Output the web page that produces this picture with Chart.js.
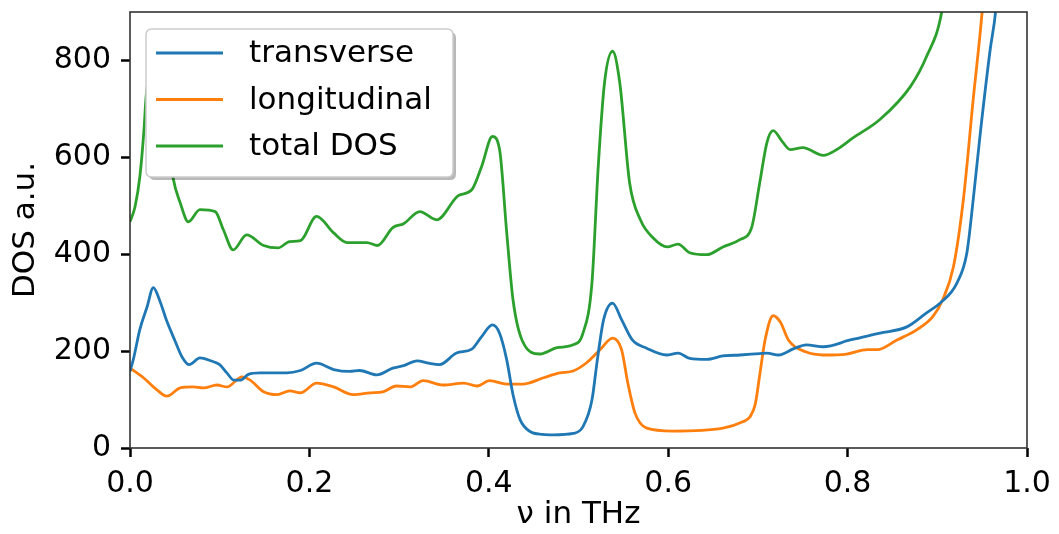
<!DOCTYPE html>
<html>
<head>
<meta charset="utf-8">
<script src="https://cdn.jsdelivr.net/npm/chart.js@4"></script>
<style>
  html, body { margin: 0; padding: 0; background: #ffffff; }
  #wrap { width: 1059px; height: 534px; }
</style>
</head>
<body>
<div id="wrap"><canvas id="c" width="1059" height="534"></canvas></div>
<script>
// ---- data ----
const seriesLabels = ["transverse", "longitudinal", "total DOS"];

const transverseX = [0.000,0.004,0.011,0.019,0.026,0.033,0.041,0.050,0.058,0.066,0.078,0.090,0.100,0.108,0.116,0.123,0.132,0.145,0.175,0.190,0.208,0.227,0.245,0.256,0.275,0.293,0.305,0.320,0.333,0.345,0.364,0.381,0.392,0.404,0.412,0.420,0.427,0.435,0.446,0.460,0.472,0.494,0.505,0.515,0.521,0.528,0.538,0.548,0.560,0.576,0.598,0.611,0.624,0.643,0.661,0.680,0.702,0.710,0.723,0.740,0.754,0.773,0.803,0.836,0.866,0.888,0.903,0.922,0.933,0.940,0.948,0.959,0.965,0.975];
const transverseY = [158,185,245,291,331,305,262,222,188,172,186,180,172,155,140,140,152,155,155,160,175,162,158,160,151,165,170,180,175,172,196,204,230,254,237,182,110,58,34,28,27,30,44,99,182,265,299,265,223,206,192,196,185,183,190,192,195,196,192,205,213,209,223,237,250,279,299,341,403,512,651,823,901,1150];

const longitudinalX = [0.000,0.015,0.030,0.041,0.056,0.070,0.082,0.097,0.108,0.125,0.134,0.149,0.164,0.178,0.190,0.208,0.227,0.249,0.268,0.282,0.297,0.312,0.327,0.349,0.372,0.387,0.401,0.420,0.438,0.461,0.479,0.494,0.509,0.524,0.538,0.548,0.555,0.563,0.576,0.605,0.661,0.683,0.691,0.697,0.702,0.708,0.717,0.725,0.734,0.754,0.773,0.799,0.822,0.833,0.855,0.877,0.895,0.906,0.918,0.929,0.940,0.950,0.958];
const longitudinalY = [165,145,120,107,124,126,124,130,126,147,140,116,110,118,114,134,126,110,114,116,128,126,139,130,134,128,139,132,132,145,155,159,176,203,227,203,134,72,41,35,41,54,64,90,150,223,273,260,223,198,192,194,203,203,223,244,271,306,374,512,719,901,1100];

const totalX = [0.000,0.0056,0.011,0.0156,0.018,0.026,0.034,0.041,0.048,0.056,0.065,0.078,0.095,0.104,0.115,0.130,0.149,0.165,0.178,0.190,0.208,0.227,0.242,0.264,0.276,0.293,0.305,0.323,0.342,0.366,0.381,0.392,0.404,0.412,0.420,0.427,0.437,0.457,0.476,0.494,0.505,0.515,0.522,0.529,0.538,0.546,0.557,0.569,0.583,0.599,0.611,0.624,0.643,0.661,0.680,0.693,0.702,0.710,0.717,0.727,0.736,0.750,0.773,0.788,0.806,0.836,0.870,0.888,0.905,0.915];
const totalY = [467,498,560,657,726,800,760,660,558,506,467,492,488,451,409,440,418,413,426,428,478,444,424,424,418,455,463,488,471,521,533,581,643,616,444,306,223,194,207,213,237,341,581,754,819,754,547,471,434,415,421,403,399,415,430,455,547,630,655,633,616,620,604,616,640,678,746,808,901,1050];

const xTicks = [0.0, 0.2, 0.4, 0.6, 0.8, 1.0];
const yTicks = [0, 200, 400, 600, 800];
const colors = ["#1f77b4", "#ff7f0e", "#2ca02c"];

function pts(xs, ys) { return xs.map((x, i) => ({ x: x, y: ys[i] })); }

const FONT = "'DejaVu Sans', 'Liberation Sans', sans-serif";

const framePlugin = {
  id: 'frame',
  afterDatasetsDraw(chart) {
    const a = chart.chartArea, ctx = chart.ctx;
    ctx.save();
    ctx.strokeStyle = '#333333';
    ctx.lineWidth = 1.6;
    ctx.strokeRect(a.left, a.top, a.right - a.left, a.bottom - a.top);
    ctx.restore();
  }
};

const legendPlugin = {
  id: 'boxLegend',
  afterDraw(chart) {
    const ctx = chart.ctx;
    const bx = 146, by = 29, bw = 307, bh = 148, r = 6;
    function rr(x, y, w, h) {
      ctx.beginPath();
      ctx.moveTo(x + r, y);
      ctx.lineTo(x + w - r, y);
      ctx.quadraticCurveTo(x + w, y, x + w, y + r);
      ctx.lineTo(x + w, y + h - r);
      ctx.quadraticCurveTo(x + w, y + h, x + w - r, y + h);
      ctx.lineTo(x + r, y + h);
      ctx.quadraticCurveTo(x, y + h, x, y + h - r);
      ctx.lineTo(x, y + r);
      ctx.quadraticCurveTo(x, y, x + r, y);
      ctx.closePath();
    }
    ctx.save();
    rr(bx + 3, by + 3, bw, bh);
    ctx.fillStyle = 'rgba(0,0,0,0.28)';
    ctx.fill();
    rr(bx, by, bw, bh);
    ctx.fillStyle = '#ffffff';
    ctx.fill();
    ctx.strokeStyle = '#cccccc';
    ctx.lineWidth = 1.5;
    ctx.stroke();
    const rows = [53, 99.5, 146];
    chart.data.datasets.forEach((ds, i) => {
      const y = rows[i];
      ctx.beginPath();
      ctx.moveTo(156, y);
      ctx.lineTo(223, y);
      ctx.strokeStyle = ds.borderColor;
      ctx.lineWidth = 2.8;
      ctx.stroke();
      ctx.fillStyle = '#000000';
      ctx.font = '31px ' + FONT;
      ctx.textBaseline = 'middle';
      ctx.textAlign = 'left';
      ctx.fillText(ds.label, 249, y + 1);
    });
    ctx.restore();
  }
};

new Chart(document.getElementById('c'), {
  type: 'line',
  data: {
    datasets: [
      { label: seriesLabels[0], data: pts(transverseX, transverseY), borderColor: colors[0] },
      { label: seriesLabels[1], data: pts(longitudinalX, longitudinalY), borderColor: colors[1] },
      { label: seriesLabels[2], data: pts(totalX, totalY), borderColor: colors[2] }
    ]
  },
  options: {
    responsive: false,
    devicePixelRatio: 1,
    animation: false,
    parsing: false,
    layout: { padding: { top: 12, right: 32, left: 0, bottom: 0 } },
    elements: {
      line: { borderWidth: 2.8, cubicInterpolationMode: 'monotone', fill: false },
      point: { radius: 0, hoverRadius: 0 }
    },
    plugins: { legend: { display: false }, tooltip: { enabled: false } },
    scales: {
      x: {
        type: 'linear', min: 0, max: 1,
        afterBuildTicks(s) { s.ticks = xTicks.map(v => ({ value: v })); },
        afterFit(s) { s.height = 86; s.paddingLeft = 0; s.paddingRight = 0; },
        grid: { display: true, drawOnChartArea: false, drawTicks: true, tickLength: 9, tickWidth: 2.5, tickColor: '#000000' },
        border: { display: false },
        ticks: {
          color: '#000000', font: { family: FONT, size: 30 }, padding: 9,
          maxRotation: 0, autoSkip: false,
          callback: v => Number(v).toFixed(1)
        },
        title: { display: true, text: 'ν in THz', color: '#000000', font: { family: FONT, size: 31 }, padding: { top: 2, bottom: 0 } }
      },
      y: {
        type: 'linear', min: 0, max: 900,
        afterBuildTicks(s) { s.ticks = yTicks.map(v => ({ value: v })); },
        afterFit(s) { s.width = 130; s.paddingTop = 0; s.paddingBottom = 0; },
        grid: { display: true, drawOnChartArea: false, drawTicks: true, tickLength: 9, tickWidth: 2.5, tickColor: '#000000' },
        border: { display: false },
        ticks: {
          color: '#000000', font: { family: FONT, size: 30 }, padding: 10,
          autoSkip: false, callback: v => String(v)
        },
        title: { display: true, text: 'DOS a.u.', color: '#000000', font: { family: FONT, size: 31 }, padding: { top: 7, bottom: 0 } }
      }
    }
  },
  plugins: [framePlugin, legendPlugin]
});
</script>
</body>
</html>
